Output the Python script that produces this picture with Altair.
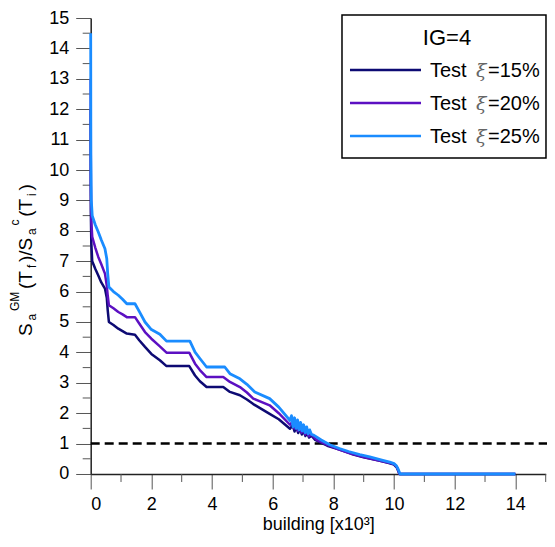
import altair as alt
import pandas as pd

# ---------------- data (x in thousands of buildings) ----------------
names = ["Test ξ=15%", "Test ξ=20%", "Test ξ=25%"]
colors = ["#0d0a73", "#5c10c2", "#1a8cff"]

x15 = [0, 0.005, 0.02, 0.05, 0.15, 0.25, 0.35, 0.47, 0.53, 0.56, 0.6, 0.75, 0.91, 1.05, 1.19,
       1.46, 1.6, 1.79, 2.0, 2.28, 2.5, 3.25, 3.44, 3.6, 3.82, 4.37, 4.59, 4.92, 5.15, 5.36,
       5.9, 6.2, 6.57, 6.66, 6.72, 6.78, 6.84, 6.9, 6.96, 7.02, 7.08, 7.14, 7.2, 7.28, 7.4,
       7.8, 8.2, 8.6, 9.0, 9.5, 9.8, 10.0, 10.1, 10.18, 14.0]
y15 = [12.0, 8.6, 7.6, 7.0, 6.75, 6.53, 6.3, 6.1, 5.8, 5.4, 5.0, 4.9, 4.78, 4.7, 4.62,
       4.58, 4.4, 4.18, 3.95, 3.74, 3.55, 3.55, 3.24, 3.05, 2.86, 2.86, 2.7, 2.59, 2.45, 2.3,
       1.98, 1.8, 1.49, 1.6, 1.4, 1.55, 1.35, 1.5, 1.3, 1.42, 1.25, 1.36, 1.2, 1.26, 1.12,
       0.93, 0.8, 0.66, 0.55, 0.44, 0.37, 0.31, 0.2, 0.0, 0.0]

x20 = [0, 0.005, 0.02, 0.05, 0.15, 0.25, 0.35, 0.47, 0.53, 0.56, 0.6, 0.75, 0.91, 1.05, 1.19,
       1.46, 1.6, 1.79, 2.0, 2.28, 2.5, 3.25, 3.44, 3.6, 3.82, 4.37, 4.59, 4.92, 5.15, 5.36,
       5.9, 6.2, 6.57, 6.65, 6.71, 6.77, 6.83, 6.89, 6.95, 7.01, 7.07, 7.13, 7.19, 7.27, 7.45,
       7.8, 8.1, 8.55, 9.0, 9.43, 9.8, 10.0, 10.1, 10.18, 14.0]
y20 = [13.0, 9.5, 8.3, 7.8, 7.45, 7.14, 6.9, 6.59, 6.2, 5.88, 5.55, 5.45, 5.33, 5.25, 5.16,
       5.16, 4.95, 4.67, 4.45, 4.2, 3.99, 3.99, 3.63, 3.42, 3.19, 3.19, 3.03, 2.86, 2.68, 2.48,
       2.26, 2.0, 1.62, 1.72, 1.5, 1.64, 1.42, 1.56, 1.36, 1.48, 1.3, 1.4, 1.24, 1.3, 1.12,
       0.96, 0.84, 0.68, 0.56, 0.46, 0.38, 0.33, 0.22, 0.0, 0.0]

x25 = [0, 0.005, 0.02, 0.05, 0.15, 0.25, 0.35, 0.47, 0.53, 0.56, 0.6, 0.75, 0.91, 1.05, 1.19,
       1.46, 1.6, 1.79, 2.0, 2.28, 2.5, 3.27, 3.44, 3.6, 3.82, 4.42, 4.59, 4.92, 5.15, 5.41,
       5.9, 6.2, 6.57, 6.62, 6.67, 6.72, 6.77, 6.82, 6.87, 6.92, 6.97, 7.02, 7.07, 7.12, 7.17,
       7.22, 7.28, 7.35, 7.6, 7.88, 8.2, 8.5, 8.87, 9.2, 9.63, 9.86, 10.0, 10.08, 10.14, 10.2, 14.0]
y25 = [14.5, 10.5, 9.0, 8.5, 8.2, 7.96, 7.7, 7.41, 7.08, 6.6, 6.15, 6.0, 5.88, 5.75, 5.6,
       5.6, 5.35, 5.0, 4.75, 4.6, 4.37, 4.37, 4.01, 3.8, 3.52, 3.52, 3.3, 3.13, 2.95, 2.7,
       2.48, 2.2, 1.76, 1.92, 1.55, 1.85, 1.5, 1.78, 1.45, 1.7, 1.42, 1.62, 1.36, 1.55, 1.32,
       1.45, 1.3, 1.28, 1.12, 0.96, 0.84, 0.74, 0.64, 0.56, 0.45, 0.39, 0.34, 0.27, 0.15, 0.0, 0.0]

threshold = [1.0]
x_major = [0, 2, 4, 6, 8, 10, 12, 14]
x_minor = [1, 3, 5, 7, 9, 11, 13, 15]
y_major = list(range(0, 16))
y_minor = [v + 0.5 for v in range(0, 15)]

legend_title = "IG=4"
x_title = "building [x10³]"
# y title pieces: (text, role)
y_title = [("S", "main"), ("a", "sub"), ("GM", "sup"), ("(T", "main"), ("f", "sub"),
           (")/S", "main"), ("a", "sub"), ("c", "sup"), ("(T", "main"), ("i", "sub"), (")", "main")]
y_title_start = [336, 320.5, 311, 289, 268, 262, 235, 225.5, 216.7, 196, 190.5]

# ---------------- layout ----------------
FONT = "Liberation Sans"
W, H = 455, 456
OX, OY = 90.7, 18  # page position of the plot origin

xscale = alt.Scale(domain=[0, 15], nice=False, zero=False)
yscale = alt.Scale(domain=[0, 15], nice=False, zero=False)

xaxis = alt.Axis(values=x_major, tickSize=15, tickColor="#555555", domainColor="#222222",
                 domainWidth=1.5, labelFont=FONT, labelFontSize=18, labelColor="black",
                 labelPadding=7, title=x_title, titleFont=FONT, titleFontSize=18,
                 titleFontWeight="normal", titleColor="black", titleBaseline="alphabetic",
                 titleY=56, grid=False, format="d")
yaxis = alt.Axis(values=y_major, tickSize=15, tickColor="#555555", domainColor="#222222",
                 domainWidth=1.5, labelFont=FONT, labelFontSize=18, labelColor="black",
                 labelPadding=7, title="", grid=False, format="d")

X = alt.X("x:Q", scale=xscale, axis=xaxis)
Y = alt.Y("y:Q", scale=yscale, axis=yaxis)

layers = []

# minor ticks
layers.append(alt.Chart(pd.DataFrame({"x": x_minor})).mark_rule(color="#555555", strokeWidth=1).encode(
    x=X, y=alt.value(H), y2=alt.value(H + 8)))
layers.append(alt.Chart(pd.DataFrame({"y": y_minor})).mark_rule(color="#555555", strokeWidth=1).encode(
    y=Y, x=alt.value(0), x2=alt.value(-8)))

# threshold dashed line
layers.append(alt.Chart(pd.DataFrame({"y": threshold, "x": [0], "xe": [15.05]})).mark_rule(
    color="black", strokeWidth=2.5, strokeDash=[9, 5]).encode(x=X, x2="xe:Q", y=Y))

# series lines
for xs, ys, name, col, sw in [(x15, y15, names[0], colors[0], 2.5),
                              (x20, y20, names[1], colors[1], 2.5),
                              (x25, y25, names[2], colors[2], 2.8)]:
    df = pd.DataFrame({"x": xs, "y": ys, "i": range(len(xs)), "s": name})
    layers.append(alt.Chart(df).mark_line(color=col, strokeWidth=sw, strokeJoin="round").encode(
        x=X, y=Y, order="i:Q"))

dummy = pd.DataFrame({"a": [0]})

# legend box
LX0, LX1, LY0, LY1 = 342, 546, 15, 158
layers.append(alt.Chart(dummy).mark_rect(fill="white", stroke="black", strokeWidth=1.5).encode(
    x=alt.value(LX0 - OX), x2=alt.value(LX1 - OX), y=alt.value(LY0 - OY), y2=alt.value(LY1 - OY)))
layers.append(alt.Chart(dummy).mark_text(text=legend_title, font=FONT, fontSize=22, align="center",
                                         baseline="alphabetic", color="black").encode(
    x=alt.value(447 - OX), y=alt.value(45 - OY)))
row_y = [70, 103, 136]
for k in range(3):
    pre, post = names[k].split("ξ")
    layers.append(alt.Chart(dummy).mark_rule(color=colors[k], strokeWidth=2.5).encode(
        x=alt.value(350 - OX), x2=alt.value(421 - OX), y=alt.value(row_y[k] - OY)))
    layers.append(alt.Chart(dummy).mark_text(text=pre.strip(), font=FONT, fontSize=20, align="left",
                                             baseline="alphabetic", color="black").encode(
        x=alt.value(430 - OX), y=alt.value(row_y[k] + 7 - OY)))
    layers.append(alt.Chart(dummy).mark_text(text="ξ", font="DejaVu Serif", fontSize=19,
                                             fontStyle="italic", align="left",
                                             baseline="alphabetic", color="#666666").encode(
        x=alt.value(476 - OX), y=alt.value(row_y[k] + 7 - OY)))
    layers.append(alt.Chart(dummy).mark_text(text=post, font=FONT, fontSize=20, align="left",
                                             baseline="alphabetic", color="black").encode(
        x=alt.value(488 - OX), y=alt.value(row_y[k] + 7 - OY)))

# y title as pieces
for (txt, role), ys0 in zip(y_title, y_title_start):
    size = 19 if role == "main" else 12
    bx = {"main": 32, "sub": 36, "sup": 19.5}[role]
    layers.append(alt.Chart(dummy).mark_text(text=txt, font=FONT, fontSize=size, angle=270,
                                             align="left", baseline="alphabetic", color="black").encode(
        x=alt.value(bx - OX), y=alt.value(ys0 - OY)))

chart = alt.layer(*layers).properties(
    width=W, height=H,
    autosize=alt.AutoSizeParams(type="none"),
    padding={"left": OX - 8, "top": OY - 8, "right": 1, "bottom": 60},
).configure_view(stroke="transparent")

chart.save("out.html", embed_options={"renderer": "svg", "actions": False})
